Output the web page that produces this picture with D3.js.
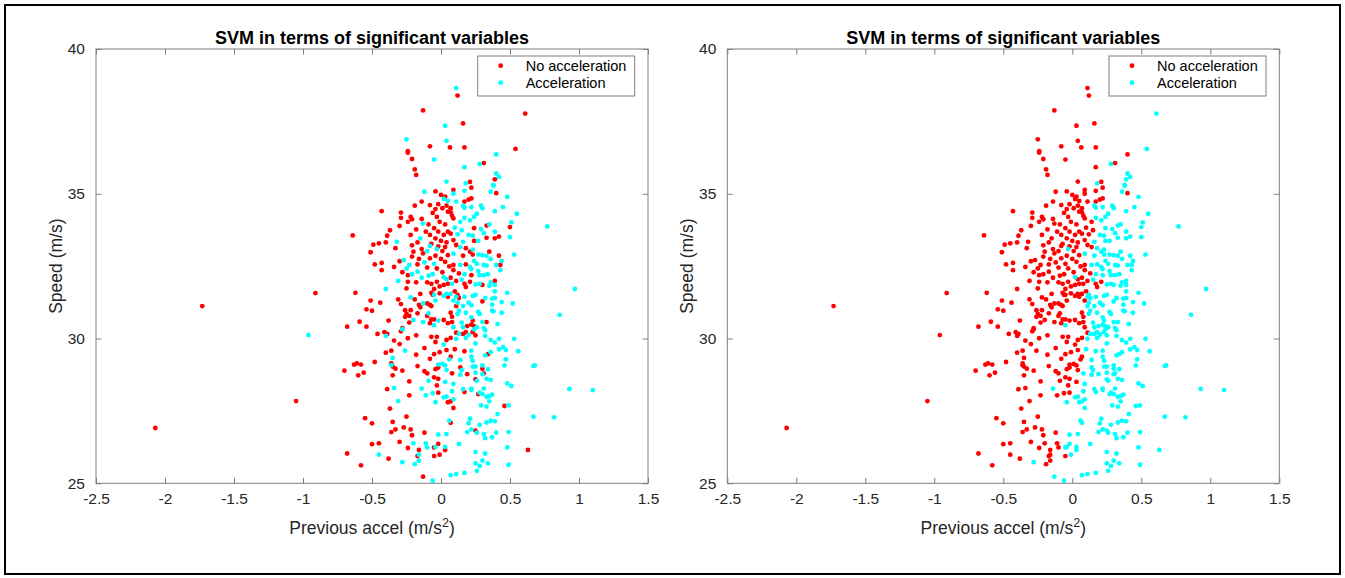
<!DOCTYPE html>
<html><head><meta charset="utf-8">
<script src="https://cdn.jsdelivr.net/npm/d3@7"></script>
<style>
body{margin:0;background:#fff;}
svg{display:block;}
text{font-family:"Liberation Sans",Arial,Helvetica,sans-serif;}
</style>
</head><body>
<svg id="chart" width="1345" height="578"></svg>
<script>
// ---------------- data ----------------
const xTicks = [-2.5, -2, -1.5, -1, -0.5, 0, 0.5, 1, 1.5];
const yTicks = [25, 30, 35, 40];
const xDomain = [-2.5, 1.5];
const yDomain = [25, 40];
const classNames = ["No acceleration", "Acceleration"];
const chartTitle = "SVM in terms of significant variables";
const yLabel = "Speed (m/s)";

// [previous accel (m/s^2), speed (m/s)] grouped by (actual class, SVM predicted class)
// actual: no acceleration, predicted: no acceleration
const noAccPredNo = [
[-2.07,26.91],[-1.73,31.12],[-1.05,27.84],[-0.91,31.57],
[-0.13,37.88],[-0.08,36.64],[0.065,36.6],[-0.24,36.47],[-0.24,36.42],[-0.21,36.2],[-0.19,35.84],[-0.18,35.65],
[0.12,38.39],[0.16,37.43],[0.17,36.6],[0.31,36.06],[0.21,35.41],
[-0.04,35.08],[0,34.96],[0.03,34.9],[-0.14,34.73],[-0.19,34.59],[-0.08,34.61],[-0.02,34.64],[-0.43,34.4],[-0.29,34.35],[-0.29,34.17],[-0.22,34.2],[-0.21,34.12],[-0.24,34.03],[-0.14,34.13],[-0.09,33.94],[-0.30,33.89],[-0.37,33.74],[-0.18,33.77],[-0.64,33.56],[-0.39,33.55],[-0.40,33.32],[-0.45,33.29],[-0.49,33.24],[-0.21,33.22],[-0.33,33.12],[-0.51,32.98],[-0.14,33.09],[-0.13,32.94],[0.01,33.02],[-0.21,32.83],[-0.30,32.67],[-0.48,32.56],[-0.43,32.61],[-0.43,32.36],[-0.34,32.47],[-0.17,32.56],[-0.10,32.45],[-0.28,32.29],[-0.24,32.19],[-0.10,31.94],[-0.24,31.96],[-0.18,31.94],[-0.25,31.73],[-0.07,31.89],[-0.03,31.96],[0.02,31.85],
[-0.04,34.47],[-0.06,34.34],[-0.03,34.2],[0.01,34.5],[0.04,34.59],[0.05,34.38],[-0.01,34.03],[0.03,33.94],[-0.05,33.81],[-0.02,33.69],[0.02,33.58],[0.05,33.69],[-0.08,33.58],[-0.04,33.46],[0.0,33.37],[0.04,33.32],[-0.07,33.27],[-0.02,33.18],[0.03,33.16],[0.05,32.88],[-0.04,32.86],[0.0,32.75],[0.03,32.65],[0.06,32.49],[-0.03,32.42],[0.01,32.29],[-0.01,31.8],[0.05,31.89],[-0.05,31.71],[-0.22,33.58],[-0.11,33.69],[-0.17,33.32],[-0.08,32.77],[-0.16,32.75],[-0.20,33.0],
[0.09,35.13],[0.22,35.21],[0.40,35.02],[0.17,34.73],[0.20,34.8],[0.22,34.84],[0.07,34.5],[0.07,34.36],[0.08,34.24],[0.09,34.15],[0.07,33.62],[0.09,33.4],[0.11,33.23],[0.09,32.54],[0.09,32.36],[0.13,32.25],[0.07,32.1],[0.11,31.99],[0.21,31.96],[0.17,31.89],[0.18,31.78],
[-0.62,31.58],[-0.51,31.31],[-0.44,31.24],[-0.54,31.01],[-0.50,30.96],[-0.31,31.35],[-0.29,31.19],[-0.15,31.54],[-0.19,31.35],[-0.16,31.16],[-0.15,31.08],[-0.10,31.21],[-0.08,31.16],[-0.07,31.12],[-0.07,31.58],[-0.06,31.51],[-0.01,31.56],[0.05,31.44],[-0.26,30.98],[-0.22,30.98],[-0.25,30.85],[-0.23,30.78],[-0.26,30.75],[-0.17,30.87],[-0.10,30.78],[-0.38,30.62],[-0.59,30.58],[-0.23,30.55],[-0.08,30.53],[-0.07,30.66],[-0.05,30.66],[0.02,30.64],[0.05,30.53],[-0.68,30.41],[-0.54,30.41],[-0.28,30.36],[-0.29,30.25],[-0.46,30.16],[-0.41,30.22],[-0.39,30.16],[-0.18,30.11],[-0.07,30.06],[-0.03,30.06],[-0.24,30.01],[-0.34,29.93],[-0.04,29.88],[-0.30,29.81],[0.04,29.95],[-0.12,29.67],[-0.36,29.58],[-0.01,29.53],[-0.40,29.51],[-0.05,29.46],[0.04,29.6],[-0.18,29.44],[-0.08,29.3],[-0.48,29.19],[-0.63,29.1],[-0.61,29.14],[-0.58,29.1],[-0.36,29.14],[-0.35,29.03],[-0.33,28.96],[-0.17,29.05],[-0.04,28.94],[-0.02,29.0],[-0.70,28.89],[-0.56,28.82],[-0.28,28.89],[-0.12,28.87],[-0.10,28.8],[-0.60,28.73],[-0.35,28.73],[-0.05,28.66],[-0.02,28.61],[-0.23,28.52],[-0.03,28.38],[-0.39,28.25],
[0.10,31.63],[0.07,30.89],[0.08,30.75],[0.08,30.57],[0.11,30.2],[0.07,30.02],[0.07,29.37],
[-0.23,28.04],[-0.02,28.13],[-0.37,27.58],[-0.55,27.25],[-0.25,27.3],[-0.50,27.07],[-0.35,27.12],[-0.27,26.93],[-0.33,26.86],[-0.22,26.86],[-0.36,26.77],[-0.12,26.75],[-0.21,26.66],[-0.30,26.43],[-0.45,26.38],[-0.50,26.35],[-0.24,26.22],[-0.16,26.15],[-0.68,26.03],[-0.17,25.94],[-0.05,25.94],[-0.38,25.85],[-0.58,25.62]
];
// actual: no acceleration, predicted: acceleration
const noAccPredAcc = [
[0.61,37.77],[0.54,36.55],[0.39,35.5],
[0.33,33.9],[0.50,33.85],[0.24,33.81],[0.42,33.52],[0.39,33.46],[0.33,33.48],[0.24,33.37],[0.18,33.12],[0.21,33.0],[0.35,33.0],[0.16,32.86],[0.23,32.9],[0.42,32.86],[0.18,32.56],[0.43,32.54],[0.22,32.19],[0.39,31.99],[0.30,31.85],
[0.12,31.51],[0.13,31.4],[0.30,31.28],[0.11,31.12],[0.23,30.62],[0.33,30.57],[0.19,30.43],[0.22,30.48],[0.24,30.43],[0.16,30.16],[0.18,30.22],[0.23,30.22],[0.25,30.11],[0.10,29.63],[0.17,29.56],[0.34,29.46],[0.14,29.0],[0.30,28.96],[0.08,28.8],[0.19,28.77],[0.31,28.8],[0.25,28.59],
[0.05,27.8],[-0.02,26.36],[-0.05,26.24],[0.03,26.15],[-0.01,25.99],[-0.13,25.23],
[0.17,28.15],[0.27,28.08],[0.07,27.83],[0.46,27.67],[0.09,27.6],[0.07,27.09],[0.25,26.82],[0.63,26.15]
];
// actual: acceleration, predicted: no acceleration
const accPredNo = [
[-0.96,30.12],
[0.03,37.35],[-0.25,36.88],[0.04,36.83],[-0.05,36.18],[0.04,35.42],
[0.11,38.65],[0.40,36.36],[0.17,35.92],
[-0.12,35.07],[0.02,34.82],[0.05,34.75],[-0.13,33.97],[-0.32,33.34],[-0.15,33.46],[-0.08,33.2],[-0.10,33.02],[-0.27,32.71],[-0.23,32.54],[-0.25,32.42],[-0.12,32.63],[-0.05,32.58],[-0.21,32.22],[-0.17,32.31],[-0.09,32.17],[-0.14,32.1],[-0.06,32.22],[-0.31,31.99],[-0.40,31.71],[0.04,32.05],
[0.17,35.1],[0.09,35.0],[0.11,34.73],[0.14,34.03],[0.10,33.83],[0.15,33.74],[0.12,33.6],[0.14,33.16],[0.08,31.89],
[-0.22,31.42],[-0.13,31.21],[-0.05,31.51],[0.02,31.47],[0.04,31.54],[-0.04,31.31],[-0.09,30.87],[-0.20,30.64],[-0.13,30.57],[-0.02,30.62],[-0.28,30.32],[-0.40,30.09],[0.02,29.79],[-0.26,29.58],[-0.35,29.33],[0.06,29.28],[-0.36,29.08],[-0.02,29.1],[0.01,29.12],[0.03,29.07],[0.04,28.91],[-0.09,28.54],[0.03,28.5],[-0.34,28.29],
[0.07,31.54],[0.09,31.31],[0.09,30.39],
[-0.31,27.84],[-0.11,28.04],[-0.06,28.11],[-0.20,26.38],[-0.11,26.38],[-0.10,26.24],[-0.45,25.99],[-0.16,25.99],[-0.16,25.78],[-0.19,25.66]
];
// actual: acceleration, predicted: acceleration
const accPredAcc = [
[0.97,31.71],[0.93,28.26],[1.10,28.22],
[0.28,36.03],[0.40,35.7],[0.42,35.58],[0.18,35.36],[0.38,35.31],
[-0.03,33.09],[0.02,32.12],
[0.38,35.28],[0.36,35.07],[0.48,34.89],[0.16,34.59],[0.17,34.52],[0.22,34.54],[0.29,34.59],[0.30,34.5],[0.45,34.54],[0.39,34.4],[0.55,34.31],[0.26,34.31],[0.24,34.2],[0.17,34.17],[0.21,34.08],[0.51,34.01],[0.35,33.94],[0.77,33.87],[0.29,33.78],[0.31,33.64],[0.39,33.69],[0.20,33.58],[0.23,33.55],[0.50,33.5],[0.16,33.34],[0.27,33.37],[0.23,33.07],[0.09,32.93],[0.27,32.9],[0.30,32.88],[0.33,32.86],[0.53,32.9],[0.36,32.75],[0.24,32.68],[0.26,32.58],[0.14,32.54],[0.31,32.54],[0.33,32.52],[0.40,32.54],[0.44,32.68],[0.21,32.47],[0.22,32.4],[0.17,32.22],[0.27,32.33],[0.43,32.36],[0.34,32.22],[0.28,32.19],[0.31,32.19],[0.15,32.03],[0.36,31.94],[0.35,31.82],[0.25,31.87],[0.28,31.89],[0.39,31.85],
[-0.05,30.46],[-0.14,28.27],
[0.11,31.44],[0.17,31.44],[0.23,31.47],[0.25,31.51],[0.32,31.4],[0.37,31.38],[0.39,31.4],[0.39,31.63],[0.48,31.58],[0.12,31.24],[0.20,31.24],[0.22,31.15],[0.16,31.12],[0.37,31.17],[0.44,31.26],[0.52,31.21],[0.13,30.96],[0.37,30.96],[0.38,30.94],[0.12,30.85],[0.18,30.89],[0.27,30.92],[0.28,30.85],[0.44,30.89],[0.86,30.82],[0.22,30.73],[0.15,30.55],[0.30,30.57],[0.41,30.5],[0.16,30.39],[0.24,30.32],[0.26,30.39],[0.31,30.36],[0.32,30.29],[0.13,30.16],[0.20,30.13],[0.32,30.09],[0.11,29.99],[0.18,30.02],[0.36,29.95],[0.39,29.86],[0.42,29.99],[0.53,29.99],[0.25,29.83],[0.42,29.63],[0.45,29.7],[0.47,29.6],[0.56,29.56],[0.22,29.58],[0.36,29.53],[0.32,29.42],[0.22,29.37],[0.23,29.23],[0.47,29.28],[0.14,29.26],[0.46,29.07],[0.67,29.05],[0.68,29.07],[0.30,29.07],[0.23,29.03],[0.25,29.03],[0.34,28.94],[0.15,28.91],[0.14,28.75],[0.25,28.82],[0.30,28.77],[0.26,28.54],[0.33,28.61],[0.36,28.57],[0.48,28.45],[0.09,28.43],[0.51,28.36],[0.22,28.27],[0.31,28.27],[0.16,28.25],
[0.02,27.97],[0.04,27.99],[-0.04,27.8],[-0.02,26.68],[0.04,26.7],[0.06,27.16],[-0.04,26.26],[0.03,26.26],[-0.28,25.73],[-0.06,25.09],[0.07,25.28],
[0.08,28.18],[0.22,28.22],[0.28,28.13],[0.30,28.08],[0.33,27.99],[0.35,28.01],[0.37,28.06],[0.09,27.9],[0.35,27.83],[0.29,27.69],[0.33,27.65],[0.49,27.69],[0.41,27.39],[0.67,27.3],[0.82,27.28],[0.21,27.23],[0.36,27.16],[0.39,27.14],[0.20,27.07],[0.33,27.1],[0.28,27.02],[0.22,26.86],[0.19,26.77],[0.26,26.75],[0.49,26.77],[0.40,26.75],[0.31,26.7],[0.32,26.56],[0.37,26.59],[0.13,26.36],[0.48,26.24],[0.25,26.08],[0.32,26.03],[0.30,25.78],[0.25,25.69],[0.34,25.69],[0.49,25.64],[0.28,25.6],[0.26,25.43],[0.17,25.36],[0.11,25.32]
];

// panel 1: actual classes, panel 2: SVM predicted classes
const panels = [
  {no: noAccPredNo.concat(noAccPredAcc), acc: accPredNo.concat(accPredAcc)},
  {no: noAccPredNo.concat(accPredNo), acc: noAccPredAcc.concat(accPredAcc)}
];

// ---------------- drawing ----------------
const RED = "#ff0000", CYAN = "#00ffff";
const AX = "#808080", TXT = "#262626";
const svg = d3.select("#chart");

svg.append("rect").attr("x", 5).attr("y", 5).attr("width", 1335).attr("height", 569)
  .attr("fill", "none").attr("stroke", "#000").attr("stroke-width", 2);

const boxes = [{left: 96, right: 648}, {left: 727.3, right: 1279.3}];
const axTop = 49, axBottom = 483.3;

panels.forEach((p, i) => {
  const b = boxes[i];
  const x = d3.scaleLinear().domain(xDomain).range([b.left, b.right]);
  const y = d3.scaleLinear().domain(yDomain).range([axBottom, axTop]);
  const g = svg.append("g");
  const tl = 5.5;

  const xb = g.append("g").attr("transform", `translate(0,${axBottom})`)
    .call(d3.axisBottom(x).tickValues(xTicks).tickSizeInner(-tl).tickSizeOuter(0).tickPadding(10)
      .tickFormat(d => String(d)));
  const xt = g.append("g").attr("transform", `translate(0,${axTop})`)
    .call(d3.axisTop(x).tickValues(xTicks).tickSizeInner(-tl).tickSizeOuter(0).tickFormat(""));
  const yl = g.append("g").attr("transform", `translate(${b.left},0)`)
    .call(d3.axisLeft(y).tickValues(yTicks).tickSizeInner(-tl).tickSizeOuter(0).tickPadding(11)
      .tickFormat(d => String(d)));
  const yr = g.append("g").attr("transform", `translate(${b.right},0)`)
    .call(d3.axisRight(y).tickValues(yTicks).tickSizeInner(-tl).tickSizeOuter(0).tickFormat(""));
  [xb, xt, yl, yr].forEach(a => {
    a.select(".domain").remove();
    a.selectAll(".tick line").attr("stroke", AX);
    a.selectAll(".tick text").attr("fill", TXT).style("font-size", "15.5px")
      .style("font-family", '"Liberation Sans",Arial,Helvetica,sans-serif');
  });

  g.append("rect").attr("x", b.left).attr("y", axTop).attr("width", b.right - b.left)
    .attr("height", axBottom - axTop).attr("fill", "none").attr("stroke", AX).attr("stroke-width", 1);

  const pts = g.append("g");
  pts.selectAll("circle.no").data(p.no).join("circle").attr("class", "no")
    .attr("cx", d => x(d[0])).attr("cy", d => y(d[1])).attr("r", 2.4).attr("fill", RED);
  pts.selectAll("circle.acc").data(p.acc).join("circle").attr("class", "acc")
    .attr("cx", d => x(d[0])).attr("cy", d => y(d[1])).attr("r", 2.4).attr("fill", CYAN);

  g.append("text").attr("x", (b.left + b.right) / 2).attr("y", 43.5)
    .attr("text-anchor", "middle").style("font-size", "18px").style("font-weight", "bold")
    .attr("fill", "#000").text(chartTitle);

  const xl = g.append("text").attr("x", (b.left + b.right) / 2).attr("y", 534)
    .attr("text-anchor", "middle").style("font-size", "17.5px").attr("fill", TXT);
  xl.append("tspan").text("Previous accel (m/s");
  xl.append("tspan").attr("dy", -7).style("font-size", "12.5px").text("2");
  xl.append("tspan").attr("dy", 7).text(")");

  g.append("text").attr("transform", `translate(${b.left - 34},${(axTop + axBottom) / 2}) rotate(-90)`)
    .attr("text-anchor", "middle").style("font-size", "17.5px").attr("fill", TXT).text(yLabel);

  const lx = b.right - 170.3, ly = 56, lw = 157, lh = 40;
  const lg = g.append("g");
  lg.append("rect").attr("x", lx).attr("y", ly).attr("width", lw).attr("height", lh)
    .attr("fill", "#fff").attr("stroke", AX).attr("stroke-width", 1);
  [RED, CYAN].forEach((c, k) => {
    const yy = ly + 9.7 + k * 17;
    lg.append("circle").attr("cx", lx + 23).attr("cy", yy).attr("r", 2.4).attr("fill", c);
    lg.append("text").attr("x", lx + 48).attr("y", yy + 5).style("font-size", "14.5px")
      .attr("fill", "#000").text(classNames[k]);
  });
});
</script>
</body></html>
